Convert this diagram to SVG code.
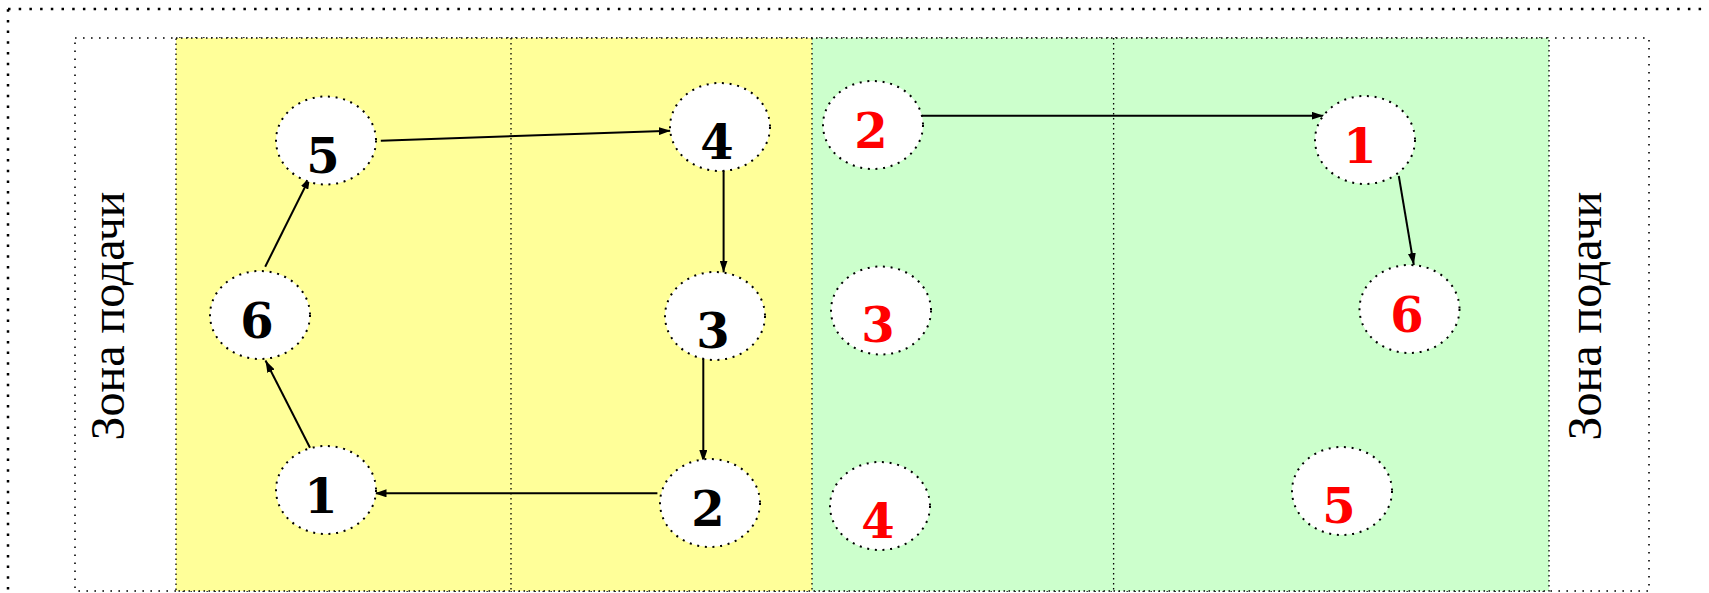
<svg xmlns="http://www.w3.org/2000/svg" width="1709" height="593" viewBox="0 0 1709 593">
<style>
.outer{fill:none;stroke:#000;stroke-width:2.5;stroke-dasharray:2.5 8.2}
.inner{fill:#fff;stroke:#000;stroke-width:1.6;stroke-dasharray:1.6 6.4}
.div{fill:none;stroke:#000;stroke-width:1.3;stroke-dasharray:1.5 3.5}
.node ellipse{fill:#fff;stroke:#000;stroke-width:2;stroke-dasharray:2 5.7}
.num{font-family:"DejaVu Serif",serif;font-weight:bold;font-size:48px;text-anchor:middle}
.blk{fill:#000}
.red{fill:#ff0000}
.zone{font-family:"Liberation Serif",serif;font-size:48px;text-anchor:middle;fill:#000}
.conn line{stroke:#000;stroke-width:2;marker-end:url(#ah)}
</style>
<defs>
<marker id="ah" viewBox="0 0 12 8" refX="12" refY="4" markerWidth="12" markerHeight="8" markerUnits="userSpaceOnUse" orient="auto">
<path d="M0,0 L12,4 L0,8 z" fill="#000"/>
</marker>
</defs>
<rect class="outer" x="8" y="9" width="1730" height="620"/>
<rect class="inner" x="75" y="38" width="1574" height="553"/>
<rect x="176" y="38" width="636" height="553" fill="#ffff99"/>
<rect x="812" y="38" width="737" height="553" fill="#ccffcc"/>
<rect class="div" x="176" y="38" width="1373" height="553"/>
<line class="div" x1="511" y1="38" x2="511" y2="591"/>
<line class="div" x1="812" y1="38" x2="812" y2="591"/>
<line class="div" x1="1113.6" y1="38" x2="1113.6" y2="591"/>
<text class="zone" transform="translate(124,316) rotate(-90)">Зона подачи</text>
<text class="zone" transform="translate(1601,316) rotate(-90)">Зона подачи</text>
<g class="conn">
<line x1="380.8" y1="140.7" x2="670.8" y2="130.7"/>
<line x1="723.6" y1="170" x2="723.6" y2="272.5"/>
<line x1="703.3" y1="358.5" x2="703.3" y2="462"/>
<line x1="657.4" y1="493.3" x2="374.5" y2="493.3"/>
<line x1="310" y1="447.7" x2="265.5" y2="360.5"/>
<line x1="265.2" y1="266.7" x2="310" y2="177"/>
<line x1="915.7" y1="115.7" x2="1323.6" y2="115.7"/>
<line x1="1398.8" y1="176" x2="1413.8" y2="265"/>
</g>
<g id="L1" class="node"><ellipse cx="326" cy="490" rx="50" ry="44"/><text class="num blk" x="321" y="513">1</text></g>
<g id="L2" class="node"><ellipse cx="710" cy="503" rx="50" ry="44"/><text class="num blk" x="708" y="526">2</text></g>
<g id="L3" class="node"><ellipse cx="715" cy="316" rx="50" ry="44"/><text class="num blk" x="713" y="347.5">3</text></g>
<g id="L4" class="node"><ellipse cx="720" cy="127" rx="50" ry="44"/><text class="num blk" x="717" y="159">4</text></g>
<g id="L5" class="node"><ellipse cx="326" cy="140.5" rx="50" ry="44"/><text class="num blk" x="323" y="173">5</text></g>
<g id="L6" class="node"><ellipse cx="260" cy="315" rx="50" ry="44"/><text class="num blk" x="257" y="338">6</text></g>
<g id="R1" class="node"><ellipse cx="1365" cy="140" rx="50" ry="44"/><text class="num red" x="1360" y="163">1</text></g>
<g id="R2" class="node"><ellipse cx="873" cy="125" rx="50" ry="44"/><text class="num red" x="871" y="148">2</text></g>
<g id="R3" class="node"><ellipse cx="881" cy="310.5" rx="50" ry="44"/><text class="num red" x="878" y="341.5">3</text></g>
<g id="R4" class="node"><ellipse cx="880" cy="506" rx="50" ry="44"/><text class="num red" x="878" y="538">4</text></g>
<g id="R5" class="node"><ellipse cx="1342" cy="491" rx="50" ry="44"/><text class="num red" x="1339" y="522.5">5</text></g>
<g id="R6" class="node"><ellipse cx="1409.5" cy="309" rx="50" ry="44"/><text class="num red" x="1407" y="331.5">6</text></g>
</svg>
